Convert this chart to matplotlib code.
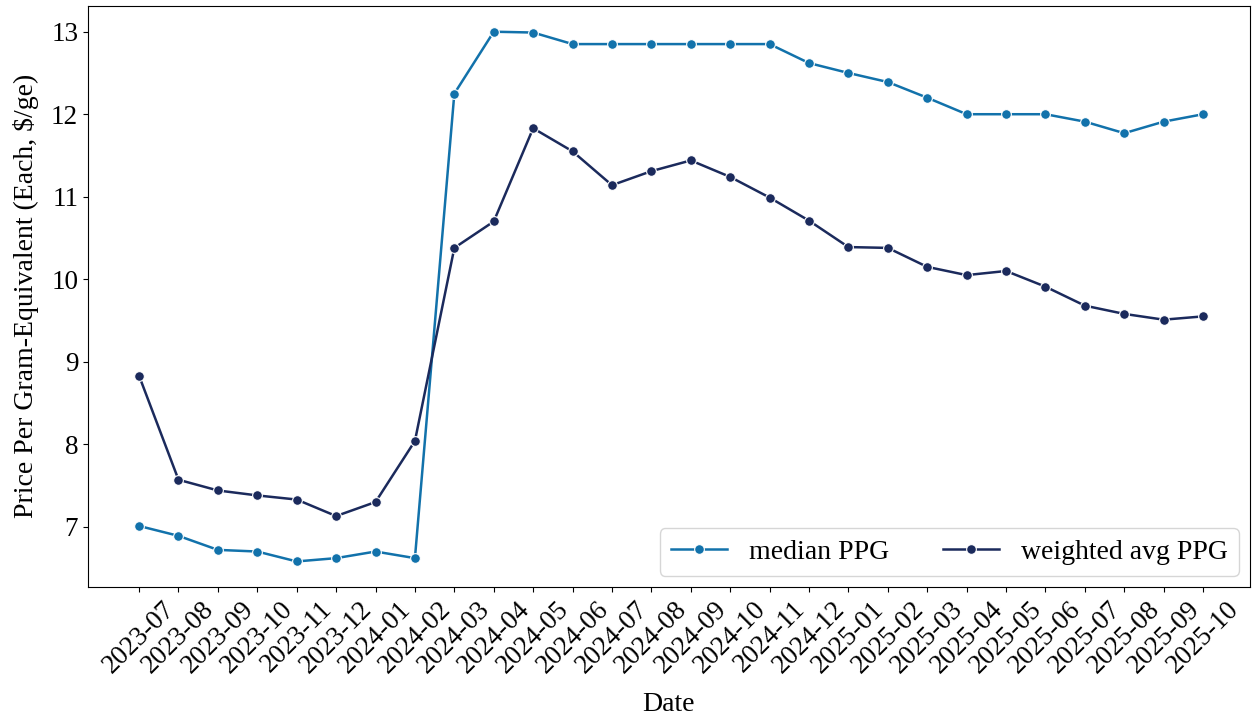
import matplotlib
matplotlib.use('Agg')
import matplotlib.pyplot as plt
import numpy as np

plt.rcParams['font.family'] = ['Liberation Serif', 'DejaVu Serif']

dates = ['2023-07', '2023-08', '2023-09', '2023-10', '2023-11', '2023-12',
         '2024-01', '2024-02', '2024-03', '2024-04', '2024-05', '2024-06',
         '2024-07', '2024-08', '2024-09', '2024-10', '2024-11', '2024-12',
         '2025-01', '2025-02', '2025-03', '2025-04', '2025-05', '2025-06',
         '2025-07', '2025-08', '2025-09', '2025-10']

median_ppg = [7.01, 6.89, 6.72, 6.70, 6.58, 6.62, 6.70, 6.62, 12.25, 13.0,
              12.99, 12.85, 12.85, 12.85, 12.85, 12.85, 12.85, 12.62, 12.50,
              12.39, 12.20, 12.0, 12.0, 12.0, 11.91, 11.77, 11.91, 12.0]

weighted_ppg = [8.83, 7.57, 7.44, 7.38, 7.33, 7.13, 7.30, 8.04, 10.38, 10.70,
                11.83, 11.55, 11.14, 11.31, 11.44, 11.24, 10.99, 10.71, 10.39,
                10.38, 10.15, 10.05, 10.10, 9.91, 9.68, 9.58, 9.51, 9.55]

fig = plt.figure(figsize=(12.55, 7.15), dpi=100)
ax = fig.add_axes([0.070, 0.179, 0.926, 0.813])

x = np.arange(len(dates))
ax.plot(x, median_ppg, color='#1272ab', marker='o', markersize=7,
        markeredgecolor='white', markeredgewidth=0.8, linewidth=1.8, label='median PPG')
ax.plot(x, weighted_ppg, color='#1b2a5c', marker='o', markersize=7,
        markeredgecolor='white', markeredgewidth=0.8, linewidth=1.8, label='weighted avg PPG')

ax.set_xticks(x)
ax.set_xticklabels(dates, rotation=45, fontsize=19.5)
ax.set_xlim(-1.3, 28.19)
ax.set_ylim(6.27, 13.315)
ax.set_yticks([7, 8, 9, 10, 11, 12, 13])
ax.tick_params(axis='y', labelsize=19.5)
ax.set_xlabel('Date', fontsize=20, labelpad=10)
ax.set_ylabel('Price Per Gram-Equivalent (Each, $/ge)', fontsize=20, labelpad=9)

ax.legend(loc='lower right', ncol=2, fontsize=20, frameon=True, columnspacing=1.95,
          borderaxespad=0.4)

fig.savefig('out.png', dpi=100)
